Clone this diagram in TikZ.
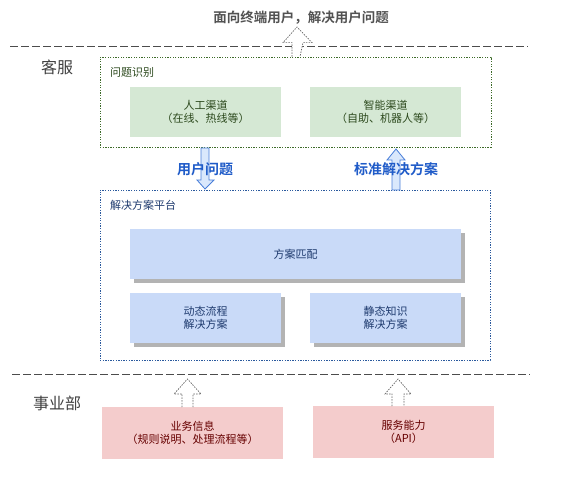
\documentclass[tikz,border=0pt]{standalone}
\usepackage{fontspec}
\setmainfont{Noto Sans CJK SC}
\newfontfamily\cjkbold[BoldFont={Noto Sans CJK SC Bold}]{Noto Sans CJK SC}
\usetikzlibrary{calc}
\definecolor{greenfill}{HTML}{D5E8D4}
\definecolor{greentext}{HTML}{2D4A1E}
\definecolor{greenborder}{HTML}{3E6B2A}
\definecolor{bluefill}{HTML}{C9DAF8}
\definecolor{bluetext}{HTML}{1E3A6E}
\definecolor{blueborder}{HTML}{2B5A9E}
\definecolor{redfill}{HTML}{F4CCCC}
\definecolor{redtext}{HTML}{660000}
\definecolor{arrowblue}{HTML}{4A7FD9}
\definecolor{arrowfill}{HTML}{DAE8FC}
\definecolor{labelblue}{HTML}{1F5BC8}
\definecolor{shadowgray}{HTML}{B3B3B3}
\tikzset{
  lbl/.style={font=\fontsize{11}{13}\selectfont, align=center, inner sep=0pt},
  greenbox/.style={fill=greenfill, text=greentext, minimum width=151pt, minimum height=50pt, lbl},
  bluebox/.style={fill=bluefill, text=bluetext, minimum height=50pt, lbl},
  redbox/.style={fill=redfill, text=redtext, minimum width=181pt, minimum height=52pt, lbl},
  sec/.style={font=\fontsize{16}{18}\selectfont, text=black!75, inner sep=0pt},
  sepline/.style={draw=black!70, line width=0.8pt, dash pattern=on 8pt off 3pt},
  dotarrow/.style={draw=black!60, fill=white, line width=0.7pt, dash pattern=on 1.5pt off 1.2pt},
  bluearrow/.style={draw=arrowblue, fill=arrowfill, line width=0.8pt},
  arrowlabel/.style={font=\cjkbold\bfseries\fontsize{14}{16}\selectfont, text=labelblue, inner sep=0pt},
}
\begin{document}
\begin{tikzpicture}[x=1pt,y=-1pt]
\useasboundingbox (0,0) rectangle (564,478);
% top caption
\node[font=\cjkbold\bfseries\fontsize{13.5}{15}\selectfont, text=black!68, inner sep=0pt] (cap) at (301,18) {面向终端用户，解决用户问题};
% separators
\coordinate (s1a) at (10,46); \coordinate (s1b) at (528,46);
\draw[sepline] (s1a) -- (s1b);
\coordinate (s2a) at (12,374); \coordinate (s2b) at (530,374);
\draw[sepline] (s2a) -- (s2b);
% section labels
\node[sec] (kf) at (57,67) {客服};
\node[sec] (syb) at (57,403) {事业部};
% green container
\node[draw=greenborder, line width=0.7pt, dash pattern=on 1.3pt off 1.3pt, minimum width=391pt, minimum height=90pt, inner sep=0pt] (gc) at (295.5,102) {};
\node[anchor=west, text=greentext, font=\fontsize{11}{13}\selectfont, inner sep=0pt] (gcl) at (110,72) {问题识别};
\node[greenbox] (rg) at (205.5,112) {人工渠道\\（在线、热线等）};
\node[greenbox] (zn) at (385.5,112) {智能渠道\\（自助、机器人等）};
% blue container
\node[draw=blueborder, line width=0.7pt, dash pattern=on 1.3pt off 1.3pt, minimum width=390pt, minimum height=170pt, inner sep=0pt] (bc) at (295,275) {};
\node[anchor=west, text=bluetext, font=\fontsize{11}{13}\selectfont, inner sep=0pt] (bcl) at (110,205) {解决方案平台};
% shadows
\fill[shadowgray] (134,233) rectangle (465,283);
\fill[shadowgray] (134,297) rectangle (285,347);
\fill[shadowgray] (314,297) rectangle (465,347);
\node[bluebox, minimum width=331pt] (pp) at (295.5,254) {方案匹配};
\node[bluebox, minimum width=151pt] (dt) at (205.5,318) {动态流程\\解决方案};
\node[bluebox, minimum width=151pt] (jt) at (385.5,318) {静态知识\\解决方案};
% red boxes
\node[redbox] (yw) at (192.5,433) {业务信息\\（规则说明、处理流程等）};
\node[redbox] (fw) at (403.5,432) {服务能力\\（API）};
% top dotted arrow
\draw[dotarrow] ($(gc.north)+(-3.5,0)$) -- ++(0,-14) -- ++(-9,0) -- (297,27) -- ($(gc.north)+(16.5,-14)$) -- ++(-9,0) -- ($(gc.north)+(4.5,0)$);
% blue arrows
\draw[bluearrow] (201,148) -- (201,180) -- (197,180) -- (205,189) -- (214,180) -- (209,180) -- (209,148) -- cycle;
\node[arrowlabel] (l1) at (205,169) {用户问题};
\draw[bluearrow] (392,190) -- (392,160) -- (387,160) -- (396,149) -- (405,160) -- (400,160) -- (400,190) -- cycle;
\node[arrowlabel] (l2) at (396,169) {标准解决方案};
% bottom dotted arrows
\draw[dotarrow] (182,407) -- (182,394) -- (174,394) -- (187.5,379) -- (201,394) -- (193,394) -- (193,407);
\draw[dotarrow] (392,406) -- (392,394) -- (385,394) -- (398,379) -- (411,394) -- (404,394) -- (404,406);
\end{tikzpicture}
\end{document}
